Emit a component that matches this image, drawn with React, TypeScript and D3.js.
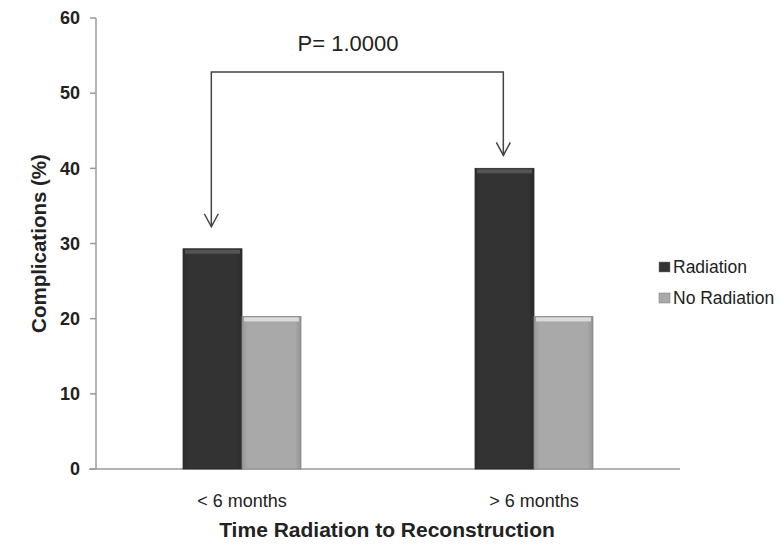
import React from "react";
import * as d3 from "d3";

const categories = ["< 6 months", "> 6 months"];
const seriesNames = ["Radiation", "No Radiation"];
const radiation = [29.3, 40.0];
const noRadiation = [20.3, 20.3];
const yTicks = [0, 10, 20, 30, 40, 50, 60];
const pLabel = "P= 1.0000";

const W = 781, H = 545;
const M = { left: 96, right: 101, top: 18, bottom: 76 };

export default function App() {
  const x = d3.scaleBand().domain(categories).range([M.left, W - M.right]).paddingInner(0.596).paddingOuter(0.298);
  const inner = d3.scaleBand().domain(seriesNames).range([0, x.bandwidth()]);
  const y = d3.scaleLinear().domain([0, 60]).range([H - M.bottom, M.top]);
  const values = [radiation, noRadiation];
  const fills = ["#333333", "#a9a9a9"];
  const tops = ["#5a5a5a", "#e4e4e4"];
  const font = "Liberation Sans, Arial, sans-serif";
  const bracketY = y(52.8);
  const ax = categories.map((c) => (x(c) as number) + inner.bandwidth() * 0.48);
  const tipOff = [22, 13];

  return (
    <svg width={W} height={H} style={{ position: "absolute", left: 0, top: 0, background: "#fff" }}>
      <defs>
        {fills.map((f, i) => (
          <linearGradient key={i} id={`g${i}`} x1="0" x2="1" y1="0" y2="0">
            <stop offset="0" stopColor={d3.color(f)!.darker(0.3).toString()} />
            <stop offset="0.1" stopColor={f} />
            <stop offset="0.9" stopColor={f} />
            <stop offset="1" stopColor={d3.color(f)!.darker(0.4).toString()} />
          </linearGradient>
        ))}
      </defs>
      {/* axes */}
      <line x1={M.left} x2={M.left} y1={y(60)} y2={y(0)} stroke="#9a9a9a" strokeWidth={1.5} />
      <line x1={M.left - 7} x2={W - M.right} y1={y(0)} y2={y(0)} stroke="#9a9a9a" strokeWidth={1.5} />
      {yTicks.map((t) => (
        <g key={t}>
          <line x1={M.left - 6} x2={M.left} y1={y(t)} y2={y(t)} stroke="#9a9a9a" strokeWidth={1.5} />
          <text x={M.left - 16} y={y(t)} dy="0.35em" textAnchor="end" fontFamily={font} fontWeight="bold" fontSize={18} fill="#222">{t}</text>
        </g>
      ))}
      {/* bars */}
      {categories.map((c, ci) =>
        seriesNames.map((s, si) => {
          const bx = (x(c) as number) + (inner(s) as number);
          const by = y(values[si][ci]);
          const bw = inner.bandwidth();
          const bh = y(0) - by;
          return (
            <g key={c + s}>
              <rect x={bx} y={by} width={bw} height={bh} fill={`url(#g${si})`} stroke={d3.color(fills[si])!.darker(0.6).toString()} strokeWidth={0.8} />
              <rect x={bx + 2} y={by + 1} width={bw - 4} height={4} fill={tops[si]} opacity={0.85} />
            </g>
          );
        })
      )}
      {/* category labels */}
      {categories.map((c) => (
        <text key={c} x={(x(c) as number) + x.bandwidth() / 2} y={507} textAnchor="middle" fontFamily={font} fontSize={18} fill="#222">{c}</text>
      ))}
      {/* bracket */}
      <path d={`M${ax[0]},${y(radiation[0]) - tipOff[0]} V${bracketY} H${ax[1]} V${y(radiation[1]) - tipOff[1]}`} fill="none" stroke="#444" strokeWidth={1.5} />
      {categories.map((c, i) => {
        const tipY = y(radiation[i]) - tipOff[i];
        return <path key={c} d={`M${ax[i] - 7},${tipY - 13} L${ax[i]},${tipY} L${ax[i] + 7},${tipY - 13}`} fill="none" stroke="#444" strokeWidth={1.5} />;
      })}
      <text x={348} y={bracketY - 21} textAnchor="middle" fontFamily={font} fontSize={22} fill="#222">{pLabel}</text>
      {/* axis titles */}
      <text transform={`translate(46,${(y(0) + y(60)) / 2}) rotate(-90)`} textAnchor="middle" fontFamily={font} fontWeight="bold" fontSize={20.5} fill="#222">Complications (%)</text>
      <text x={387} y={537} textAnchor="middle" fontFamily={font} fontWeight="bold" fontSize={21} fill="#222">Time Radiation to Reconstruction</text>
      {/* legend */}
      {seriesNames.map((s, i) => (
        <g key={s} transform={`translate(659,${267 + i * 31})`}>
          <rect x={0} y={-5} width={11} height={10} fill={fills[i]} stroke="#777" strokeWidth={0.5} />
          <text x={14} y={0} dy="0.36em" fontFamily={font} fontSize={17.5} fill="#222">{s}</text>
        </g>
      ))}
    </svg>
  );
}
